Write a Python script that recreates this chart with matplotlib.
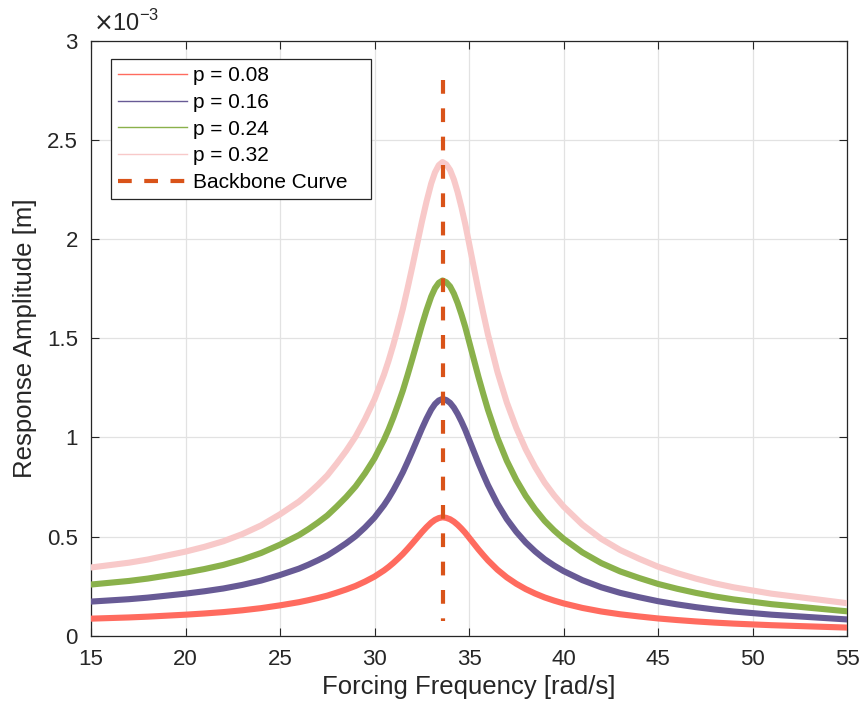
import matplotlib
matplotlib.use("Agg")
import matplotlib.pyplot as plt
from matplotlib.lines import Line2D
from matplotlib.ticker import FuncFormatter

plt.rcParams['font.family'] = ['Liberation Sans', 'DejaVu Sans']

# ---------------- data (amplitudes in units of 1e-3 m) ----------------
freq = [15, 16, 17, 18, 19, 20, 21, 22, 23, 24,
        24.5, 25, 25.5, 26, 26.5, 27, 27.5, 28, 28.5, 29, 29.5, 30,
        30.5, 30.75, 31, 31.25, 31.5, 31.75, 32, 32.25, 32.5, 32.75, 33,
        33.2, 33.4, 33.6, 33.8, 34.0, 34.2, 34.4, 34.6, 34.8, 35,
        35.25, 35.5, 35.75, 36, 36.5, 37, 37.5, 38, 38.5, 39, 39.5, 40,
        41, 42, 43, 44, 45, 46, 47, 48, 49, 50, 51, 52, 53, 54, 55]

amp_p008 = [0.086, 0.089, 0.092, 0.096, 0.101, 0.106, 0.112, 0.119, 0.128, 0.139,
            0.146, 0.153, 0.161, 0.169, 0.179, 0.190, 0.202, 0.217, 0.233, 0.251, 0.273, 0.298,
            0.329, 0.347, 0.367, 0.389, 0.412, 0.438, 0.465, 0.493, 0.521, 0.547, 0.570,
            0.584, 0.593, 0.597, 0.594, 0.587, 0.575, 0.559, 0.540, 0.519, 0.495,
            0.465, 0.435, 0.407, 0.380, 0.333, 0.294, 0.262, 0.235, 0.2125, 0.193, 0.177, 0.163,
            0.140, 0.122, 0.108, 0.097, 0.087, 0.079, 0.072, 0.066, 0.061, 0.057,
            0.053, 0.050, 0.047, 0.044, 0.041]

amp_p016 = [0.172, 0.178, 0.184, 0.192, 0.202, 0.212, 0.224, 0.238, 0.256, 0.278,
            0.292, 0.306, 0.322, 0.338, 0.358, 0.380, 0.404, 0.434, 0.466, 0.502, 0.546, 0.596,
            0.658, 0.694, 0.734, 0.778, 0.824, 0.876, 0.930, 0.986, 1.042, 1.094, 1.140,
            1.168, 1.186, 1.194, 1.188, 1.174, 1.150, 1.118, 1.080, 1.038, 0.990,
            0.930, 0.870, 0.814, 0.760, 0.666, 0.588, 0.524, 0.470, 0.425, 0.386, 0.354, 0.326,
            0.280, 0.244, 0.216, 0.194, 0.174, 0.158, 0.144, 0.132, 0.122, 0.114,
            0.106, 0.100, 0.094, 0.088, 0.082]

amp_p024 = [0.258, 0.267, 0.276, 0.288, 0.303, 0.318, 0.336, 0.357, 0.384, 0.417,
            0.438, 0.459, 0.483, 0.507, 0.537, 0.570, 0.606, 0.651, 0.699, 0.753, 0.819, 0.894,
            0.987, 1.041, 1.101, 1.167, 1.236, 1.314, 1.395, 1.479, 1.563, 1.641, 1.710,
            1.752, 1.779, 1.791, 1.782, 1.761, 1.725, 1.677, 1.620, 1.557, 1.485,
            1.395, 1.305, 1.221, 1.140, 0.999, 0.882, 0.786, 0.705, 0.6375, 0.579, 0.531, 0.489,
            0.420, 0.366, 0.324, 0.291, 0.261, 0.237, 0.216, 0.198, 0.183, 0.171,
            0.159, 0.150, 0.141, 0.132, 0.123]

amp_p032 = [0.344, 0.356, 0.368, 0.384, 0.404, 0.424, 0.448, 0.476, 0.512, 0.556,
            0.584, 0.612, 0.644, 0.676, 0.716, 0.760, 0.808, 0.868, 0.932, 1.004, 1.092, 1.192,
            1.316, 1.388, 1.468, 1.556, 1.648, 1.752, 1.860, 1.972, 2.084, 2.188, 2.280,
            2.336, 2.372, 2.388, 2.376, 2.348, 2.300, 2.236, 2.160, 2.076, 1.980,
            1.860, 1.740, 1.628, 1.520, 1.332, 1.176, 1.048, 0.940, 0.850, 0.772, 0.708, 0.652,
            0.560, 0.488, 0.432, 0.388, 0.348, 0.316, 0.288, 0.264, 0.244, 0.228,
            0.212, 0.200, 0.188, 0.176, 0.164]

backbone_freq = [33.63, 33.63]
backbone_amp = [2.80, 0.075]

labels = ['p = 0.08', 'p = 0.16', 'p = 0.24', 'p = 0.32']
colors = ['#FF6B5F', '#675A95', '#8AB14B', '#F8C9C9']
series = [amp_p008, amp_p016, amp_p024, amp_p032]
scale = 1e-3

xticks = [15, 20, 25, 30, 35, 40, 45, 50, 55]
yticks = [0, 0.5, 1, 1.5, 2, 2.5, 3]

# ---------------- figure ----------------
fig = plt.figure(figsize=(8.59, 7.13), dpi=100)
ax = fig.add_axes([91/859, 1 - 635.7/713, (847-91)/859, (635.7-40.7)/713])

dark = '#262626'
for vals, c in zip(series, colors):
    ax.plot(freq, [v*scale for v in vals], color=c, lw=4.4,
            solid_capstyle='round', solid_joinstyle='round', zorder=3)

ax.plot(backbone_freq, [v*scale for v in backbone_amp], color='#D95319',
        lw=3.0, dashes=(3.3, 3.5), dash_capstyle='butt', zorder=4)

ax.set_xlim(15, 55)
ax.set_ylim(0, 3e-3)
ax.set_xticks(xticks)
ax.set_yticks([t*scale for t in yticks])
ax.yaxis.set_major_formatter(FuncFormatter(lambda v, p: f"{v/scale:g}"))

ax.grid(True, color='#E2E2E2', lw=0.9)
ax.set_axisbelow(True)
ax.tick_params(direction='in', length=5.5, width=0.8, colors=dark,
               labelsize=16, top=True, right=True, pad=9.5)
for s in ax.spines.values():
    s.set_color(dark)
    s.set_linewidth(0.9)

ax.set_xlabel('Forcing Frequency [rad/s]', fontsize=18.5, color=dark, labelpad=4)
ax.set_ylabel('Response Amplitude [m]', fontsize=18.5, color=dark, labelpad=7)

ax.text(0.003, 1.008, r'$\times$10$^{\mathregular{-3}}$', transform=ax.transAxes,
        fontsize=17, color=dark, ha='left', va='bottom')

handles = [Line2D([], [], color=c, lw=1.0) for c in colors]
handles.append(Line2D([], [], color='#D95319', lw=3.0, dashes=(3.3, 3.0),
                      dash_capstyle='butt'))
leg = ax.legend(handles, labels + ['Backbone Curve'], loc='upper left',
                bbox_to_anchor=(0.0265, 0.9687 - 0.3, 0.344, 0.3), mode='expand',
                borderaxespad=0,
                fontsize=15, handlelength=3.3, handletextpad=0.3,
                labelspacing=0.37, borderpad=0.33, fancybox=False,
                framealpha=1, edgecolor=dark)
leg.get_frame().set_linewidth(0.9)

fig.savefig('out.png', dpi=100)
